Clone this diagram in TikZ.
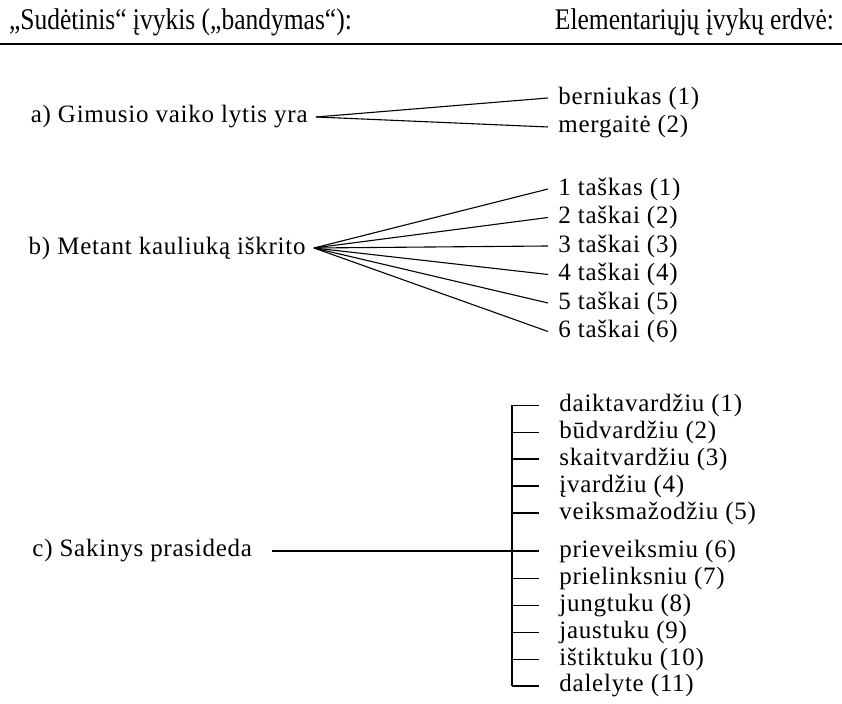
\documentclass[tikz,border=0pt]{standalone}
\usepackage{fontspec}
\setmainfont[LetterSpace=3]{Liberation Serif}
\newfontfamily\headfont[FakeStretch=0.85]{Liberation Serif}
\usepackage{tikz}
\usetikzlibrary{positioning}

\begin{document}
\begin{tikzpicture}
    [
    x=0.5pt,y=-0.5pt,
    font=\fontsize{12.5pt}{14pt}\selectfont,
    head/.style={font=\headfont\fontsize{15pt}{17pt}\selectfont},
    src/.style={anchor=east,inner sep=4pt},
    leaf/.style={anchor=west,inner xsep=5pt,inner ysep=1pt},
    item/.style={anchor=west,inner xsep=10pt,inner ysep=1pt},
    branch/.style={line width=0.55pt},
    ]
    \useasboundingbox (0,0) rectangle (842,704);

    % header
    \node (h1) at (2,22) [head,anchor=west] {„Sudėtinis“ įvykis („bandymas“):};
    \node (h2) at (841,22) [head,anchor=east] {Elementariųjų įvykų erdvė:};
    \coordinate (hl) at (0,44);
    \coordinate (hr) at (842,44);
    \draw [line width=1pt] (hl) -- (hr);

    % a)
    \node (a) at (316,117) [src] {a) Gimusio vaiko lytis yra};
    \node (a1) at (548,98) [leaf] {berniukas (1)};
    \node (a2) at (548,127) [leaf] {mergaitė (2)};
    \draw [branch] (a.east) -- (a1.west);
    \draw [branch] (a.east) -- (a2.west);

    % b)
    \node (b) at (314,248) [src] {b) Metant kauliuką iškrito};
    \node (b1) at (548,189) [leaf] {1 taškas (1)};
    \node (b2) at (548,217.5) [leaf] {2 taškai (2)};
    \node (b3) at (548,246) [leaf] {3 taškai (3)};
    \node (b4) at (548,274.5) [leaf] {4 taškai (4)};
    \node (b5) at (548,303) [leaf] {5 taškai (5)};
    \node (b6) at (548,331.5) [leaf] {6 taškai (6)};
    \draw [branch] (b.east) -- (b1.west);
    \draw [branch] (b.east) -- (b2.west);
    \draw [branch] (b.east) -- (b3.west);
    \draw [branch] (b.east) -- (b4.west);
    \draw [branch] (b.east) -- (b5.west);
    \draw [branch] (b.east) -- (b6.west);

    % c)
    \node (c) at (24,551) [anchor=west,inner sep=4pt] {c) Sakinys prasideda};
    \coordinate (top) at (512,405.5);
    \coordinate (bot) at (512,686);
    \coordinate (mid) at (512,551);
    \node (c1) at (539,405.5) [item] {daiktavardžiu (1)};
    \node (c2) at (539,432.5) [item] {būdvardžiu (2)};
    \node (c3) at (539,459) [item] {skaitvardžiu (3)};
    \node (c4) at (539,486) [item] {įvardžiu (4)};
    \node (c5) at (539,513) [item] {veiksmažodžiu (5)};
    \node (c6) at (539,551) [item] {prieveiksmiu (6)};
    \node (c7) at (539,578.5) [item] {prielinksniu (7)};
    \node (c8) at (539,605.5) [item] {jungtuku (8)};
    \node (c9) at (539,632.5) [item] {jaustuku (9)};
    \node (c10) at (539,659.5) [item] {ištiktuku (10)};
    \node (c11) at (539,686) [item] {dalelyte (11)};
    \draw [branch,shorten <=6pt] (c.east) -- (mid);
    \draw [branch] (top) -- (bot);
    \draw [branch] (top) -- (c1.west);
    \draw [branch] (top |- c2.west) -- (c2.west);
    \draw [branch] (top |- c3.west) -- (c3.west);
    \draw [branch] (top |- c4.west) -- (c4.west);
    \draw [branch] (top |- c5.west) -- (c5.west);
    \draw [branch] (mid) -- (c6.west);
    \draw [branch] (top |- c7.west) -- (c7.west);
    \draw [branch] (top |- c8.west) -- (c8.west);
    \draw [branch] (top |- c9.west) -- (c9.west);
    \draw [branch] (top |- c10.west) -- (c10.west);
    \draw [branch] (bot) -- (c11.west);
\end{tikzpicture}
\end{document}
